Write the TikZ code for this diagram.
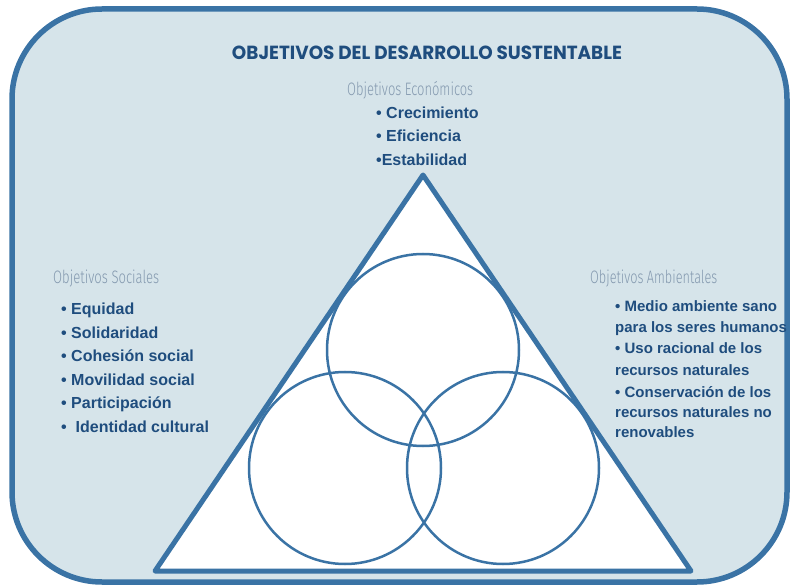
\documentclass[tikz,border=0pt]{standalone}
\usepackage{fontspec}
\usepackage{graphicx}
\setmainfont{Liberation Sans}
\newfontfamily\bulfont{Liberation Sans}
\newfontfamily\titlefont{Poppins}
\newfontfamily\thinfont{Fira Sans Light}
\definecolor{boxfill}{HTML}{D6E4EA}
\definecolor{edgeblue}{HTML}{3A73A5}
\definecolor{txtblue}{HTML}{1F4D7E}
\definecolor{lblgray}{HTML}{8499AF}
\tikzset{
  bul/.style={anchor=base west, inner sep=0pt, text=txtblue, font=\bulfont\bfseries\fontsize{16}{16}\selectfont},
  bulsm/.style={anchor=base west, inner sep=0pt, text=txtblue, font=\bulfont\bfseries\fontsize{15}{15}\selectfont},
  lbl/.style={anchor=base west, inner sep=0pt, text=lblgray, font=\thinfont\fontsize{18}{18}\selectfont},
  ttl/.style={anchor=base, inner sep=0pt, text=txtblue, font=\titlefont\bfseries\fontsize{19}{19}\selectfont},
  frame/.style={draw=edgeblue, line width=5.5pt, fill=boxfill, rounded corners=90pt},
  tri/.style={draw=edgeblue, line width=5pt, fill=white, line join=round},
  ring/.style={draw=edgeblue, line width=2.5pt}
}
\begin{document}
\begin{tikzpicture}[x=1pt, y=-1pt]
\useasboundingbox (0,0) rectangle (790,585);
\draw[frame] (12,9) rectangle (787,582);
\coordinate (apex) at (423,175);
\coordinate (bl) at (155,571);
\coordinate (br) at (691,571);
\draw[tri] (apex) -- (bl) -- (br) -- cycle;
\node[ring, circle, minimum size=192pt, inner sep=0pt] (ctop) at (423,350) {};
\node[ring, circle, minimum size=192pt, inner sep=0pt] (cleft) at (345,468) {};
\node[ring, circle, minimum size=192pt, inner sep=0pt] (cright) at (503,468) {};
% title
\node[ttl] (title) at (427,60) {\resizebox{390pt}{\height}{OBJETIVOS DEL DESARROLLO SUSTENTABLE}};
% economic
\node[lbl] (leco) at (347,96) {\resizebox{126pt}{\height}{Objetivos Económicos}};
\node[bul] (e1) at (376,119) {• Crecimiento};
\node[bul] (e2) at (376,142) {• Eficiencia};
\node[bul] (e3) at (376,166) {•Estabilidad};
% social
\node[lbl] (lsoc) at (53,284) {\resizebox{106pt}{\height}{Objetivos Sociales}};
\node[bul] (s1) at (61,315) {• Equidad};
\node[bul] (s2) at (61,338) {• Solidaridad};
\node[bul] (s3) at (61,362) {• Cohesión social};
\node[bul] (s4) at (61,385) {• Movilidad social};
\node[bul] (s5) at (61,408) {• Participación};
\node[bul] (s6) at (61,432) {•\ \ Identidad cultural};
% environmental
\node[lbl] (lamb) at (590,284) {\resizebox{127pt}{\height}{Objetivos Ambientales}};
\node[bulsm] (a1) at (615,312) {• Medio ambiente sano};
\node[bulsm] (a2) at (615,333) {para los seres humanos};
\node[bulsm] (a3) at (615,354) {• Uso racional de los};
\node[bulsm] (a4) at (615,375) {recursos naturales};
\node[bulsm] (a5) at (615,397) {• Conservación de los};
\node[bulsm] (a6) at (615,417) {recursos naturales no};
\node[bulsm] (a7) at (615,437) {renovables};
\end{tikzpicture}
\end{document}
